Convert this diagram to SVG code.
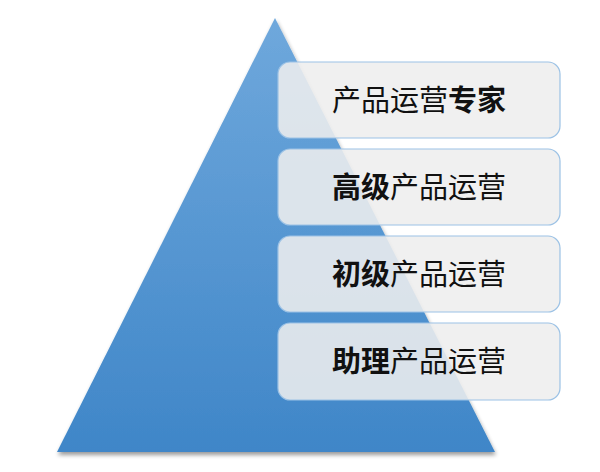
<svg xmlns="http://www.w3.org/2000/svg" width="600" height="472" viewBox="0 0 600 472">
<defs>
<linearGradient id="g" x1="0" y1="0" x2="0" y2="1"><stop offset="0" stop-color="#6fa8dc"/><stop offset="1" stop-color="#3f86c8"/></linearGradient>
<filter id="sh" x="-10%" y="-10%" width="120%" height="120%"><feGaussianBlur in="SourceAlpha" stdDeviation="2"/><feOffset dx="1" dy="3"/><feComponentTransfer><feFuncA type="linear" slope="0.4"/></feComponentTransfer><feMerge><feMergeNode/><feMergeNode in="SourceGraphic"/></feMerge></filter>
</defs>
<style>
.box{fill:#eeeeee;fill-opacity:0.88;stroke:#9cc2e5;stroke-width:1.2}
.t{font-family:"Noto Sans CJK SC",sans-serif;font-size:29px;fill:#111;text-anchor:middle}
.b{font-weight:bold}
</style>
<g id="pyramid"><polygon points="275,18 57,452 495,452" fill="url(#g)" filter="url(#sh)"/></g>
<g id="n1"><rect class="box" x="278" y="62" width="282" height="76" rx="12"/><text class="t" x="419" y="111">产品运营<tspan class="b">专家</tspan></text></g>
<g id="n2"><rect class="box" x="278" y="149" width="282" height="76" rx="12"/><text class="t" x="419" y="198"><tspan class="b">高级</tspan>产品运营</text></g>
<g id="n3"><rect class="box" x="278" y="236" width="282" height="76" rx="12"/><text class="t" x="419" y="285"><tspan class="b">初级</tspan>产品运营</text></g>
<g id="n4"><rect class="box" x="278" y="323" width="282" height="77" rx="12"/><text class="t" x="419" y="372"><tspan class="b">助理</tspan>产品运营</text></g>
<g id="connectors"/>
</svg>
